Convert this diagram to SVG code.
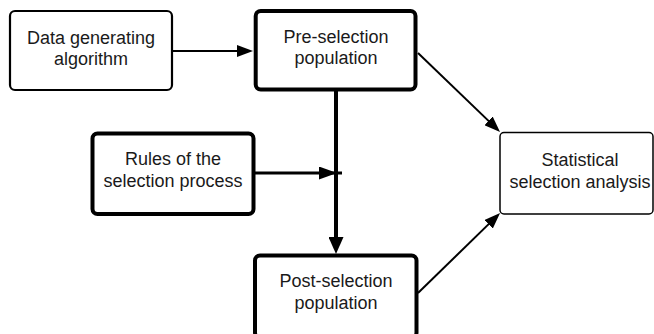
<svg xmlns="http://www.w3.org/2000/svg" width="654" height="334" viewBox="0 0 654 334">
  <style>
    .box { fill: #ffffff; stroke: #000000; }
    .b2 { stroke-width: 2.2; }
    .b4 { stroke-width: 4; }
    .b15 { stroke-width: 1.5; }
    .lbl { font-family: "Liberation Sans", Arial, sans-serif; font-size: 18px; fill: #1a1a1a; text-anchor: middle; }
    .conn { fill: none; stroke: #000000; stroke-width: 2; }
    .connMid { fill: none; stroke: #000000; stroke-width: 3; }
    .connThick { fill: none; stroke: #000000; stroke-width: 4; }
  </style>
  <defs>
    <marker id="ah" markerUnits="userSpaceOnUse" viewBox="0 0 16 12" markerWidth="16" markerHeight="12" refX="4" refY="6" orient="auto">
      <path d="M0,0 L16,6 L0,12 z" fill="#000000"/>
    </marker>
    <marker id="ahMid" markerUnits="userSpaceOnUse" viewBox="0 0 18 13" markerWidth="18" markerHeight="13" refX="18" refY="6.5" orient="auto">
      <path d="M0,0 L18,6.5 L0,13 z" fill="#000000"/>
    </marker>
    <marker id="ahBig" markerUnits="userSpaceOnUse" viewBox="0 0 17 15" markerWidth="17" markerHeight="15" refX="5" refY="7.5" orient="auto">
      <path d="M0,0 L17,7.5 L0,15 z" fill="#000000"/>
    </marker>
  </defs>
  <rect width="654" height="334" fill="#ffffff"/>

  <g id="connectors">
    <path class="conn" d="M172,51 L241,51" marker-end="url(#ah)"/>
    <path class="connThick" d="M336,91 L336,242" marker-end="url(#ahBig)"/>
    <path class="connMid" d="M255,173 L337,173 L342,173" marker-mid="url(#ahMid)"/>
    <path class="conn" d="M418,53 L491.4,123.6" marker-end="url(#ah)"/>
    <path class="conn" d="M418,293 L491.5,221.4" marker-end="url(#ah)"/>
  </g>

  <g id="node-data">
    <rect class="box b2" x="10" y="11" width="162" height="79" rx="5"/>
    <text class="lbl" x="91" y="43.5">Data generating</text>
    <text class="lbl" x="91" y="64.5">algorithm</text>
  </g>
  <g id="node-pre">
    <rect class="box b4" x="255.7" y="11" width="159.8" height="78.5" rx="5"/>
    <text class="lbl" x="336" y="42.5">Pre-selection</text>
    <text class="lbl" x="336" y="63.5">population</text>
  </g>
  <g id="node-rules">
    <rect class="box b4" x="92.5" y="133.5" width="161" height="80.5" rx="5"/>
    <text class="lbl" x="173" y="165">Rules of the</text>
    <text class="lbl" x="173" y="186.5">selection process</text>
  </g>
  <g id="node-post">
    <rect class="box b4" x="255" y="255.5" width="161.5" height="82" rx="5"/>
    <text class="lbl" x="336" y="287">Post-selection</text>
    <text class="lbl" x="336" y="309">population</text>
  </g>
  <g id="node-stat">
    <rect class="box b15" x="500" y="132.5" width="153" height="81.5" rx="4"/>
    <text class="lbl" x="580" y="166">Statistical</text>
    <text class="lbl" x="580" y="187.5">selection analysis</text>
  </g>
</svg>
